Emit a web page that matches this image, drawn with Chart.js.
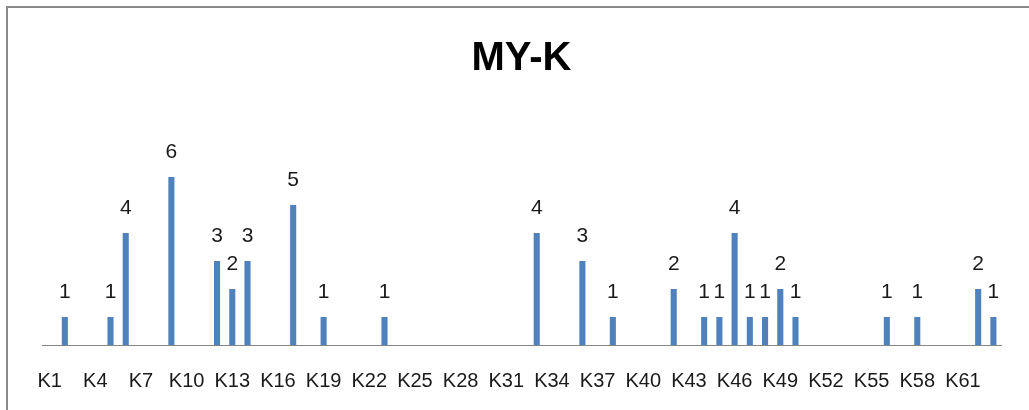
<!DOCTYPE html>
<html>
<head>
<meta charset="utf-8">
<script src="https://cdn.jsdelivr.net/npm/chart.js@4"></script>
<style>
  html, body { margin: 0; padding: 0; background: #fff; }
  #wrap { width: 1029px; height: 410px; position: relative; }
</style>
</head>
<body>
<div id="wrap"><canvas id="myk-chart"></canvas></div>
<script>
// Categories K1..K63, every third one gets a tick label
const categories = [];
for (let i = 1; i <= 63; i++) categories.push('K' + i);

// Counts per category (0 = no bar)
const counts = [
  0, 1, 0, 0, 1, 4, 0, 0, 6, 0,   // K1-K10
  0, 3, 2, 3, 0, 0, 5, 0, 1, 0,   // K11-K20
  0, 0, 1, 0, 0, 0, 0, 0, 0, 0,   // K21-K30
  0, 0, 4, 0, 0, 3, 0, 1, 0, 0,   // K31-K40
  0, 2, 0, 1, 1, 4, 1, 1, 2, 1,   // K41-K50
  0, 0, 0, 0, 0, 1, 0, 1, 0, 0,   // K51-K60
  0, 2, 1                         // K61-K63
];

const BAR_BLUE = '#4F81BD';

// Frame lines around the chart (Excel chart border)
const framePlugin = {
  id: 'frame',
  beforeDraw: (chart) => {
    const ctx = chart.ctx;
    ctx.save();
    ctx.fillStyle = '#fff';
    ctx.fillRect(0, 0, chart.width, chart.height);
    ctx.strokeStyle = '#8a8a8a';
    ctx.lineWidth = 2;
    ctx.strokeRect(7, 7, chart.width + 20, chart.height + 20);
    ctx.restore();
  }
};

// Value labels above each non-empty bar
const valueLabels = {
  id: 'valueLabels',
  afterDatasetsDraw: (chart) => {
    const ctx = chart.ctx;
    const meta = chart.getDatasetMeta(0);
    ctx.save();
    ctx.fillStyle = '#1a1a1a';
    ctx.font = '21px "Liberation Sans", Arial, sans-serif';
    ctx.textAlign = 'center';
    ctx.textBaseline = 'middle';
    meta.data.forEach((bar, i) => {
      if (!counts[i]) return;
      ctx.fillText(String(counts[i]), bar.x, bar.y - 25);
    });
    ctx.restore();
  }
};

new Chart(document.getElementById('myk-chart'), {
  type: 'bar',
  data: {
    labels: categories,
    datasets: [{
      label: 'MY-K',
      data: counts,
      backgroundColor: BAR_BLUE,
      borderWidth: 0,
      barPercentage: 0.4,
      categoryPercentage: 1.0
    }]
  },
  plugins: [framePlugin, valueLabels],
  options: {
    responsive: true,
    maintainAspectRatio: false,
    animation: false,
    layout: { padding: { left: 42, right: 28, top: 0, bottom: 19 } },
    plugins: {
      legend: { display: false },
      tooltip: { enabled: false },
      title: {
        display: true,
        text: 'MY-K',
        color: '#000',
        font: { family: '"Liberation Sans", Arial, sans-serif', size: 40, weight: 'bold', lineHeight: 1.2 },
        padding: { top: 35, bottom: 66 }
      }
    },
    scales: {
      x: {
        grid: { display: false, drawTicks: false },
        border: { display: true, color: '#868686', width: 1 },
        afterFit: (scale) => { scale.height = 46; },
        ticks: {
          autoSkip: false,
          maxRotation: 0,
          padding: 24,
          color: '#1a1a1a',
          font: { family: '"Liberation Sans", Arial, sans-serif', size: 20 },
          callback: function(val, idx) {
            return idx % 3 === 0 ? this.getLabelForValue(val) : '';
          }
        }
      },
      y: {
        display: false,
        min: 0,
        max: 7
      }
    }
  }
});
</script>
</body>
</html>
